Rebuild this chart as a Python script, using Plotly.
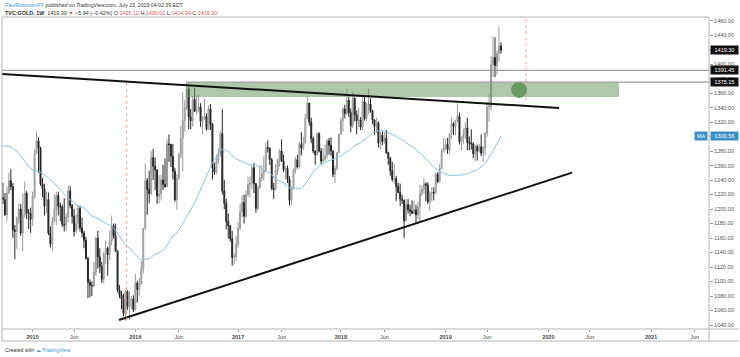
import pandas as pd
import plotly.graph_objects as go

# ---------------- data (weekly bars, Monday dated) ----------------
first_week = "2014-09-08"
warmup_closes = [1230, 1235, 1197, 1213, 1237, 1247, 1254, 1264, 1240, 1262,
                 1318, 1323, 1326, 1339, 1379, 1335, 1294, 1303, 1318, 1293,
                 1300, 1302, 1290, 1293, 1292, 1246, 1252, 1274, 1316, 1316,
                 1320, 1337, 1310, 1303, 1294, 1309, 1305, 1280, 1287, 1268]

opens = [
    # 2014
    1268, 1231, 1216, 1213, 1192, 1222, 1239, 1231, 1171, 1169, 1187, 1200, 1167, 1192, 1222, 1195, 1194,
    # 2015
    1186, 1217, 1277, 1294, 1284, 1235, 1228, 1204, 1213, 1167, 1152, 1184, 1199, 1219, 1204, 1203, 1179,
    1178, 1189, 1225, 1205, 1190, 1169, 1180, 1201, 1174, 1167, 1157, 1132, 1099, 1095, 1094, 1113, 1160,
    1134, 1121, 1103, 1138, 1146, 1137, 1156, 1177, 1163, 1142, 1088, 1081, 1076, 1056, 1086, 1065, 1066, 1076,
    # 2016
    1061, 1098, 1089, 1097, 1118, 1173, 1239, 1227, 1221, 1271, 1259, 1254, 1218, 1221, 1240, 1234, 1231,
    1290, 1289, 1273, 1252, 1213, 1242, 1275, 1298, 1322, 1340, 1366, 1327, 1322, 1351, 1335, 1336, 1341,
    1321, 1326, 1328, 1310, 1338, 1317, 1257, 1251, 1266, 1276, 1304, 1225, 1208, 1183, 1177, 1159, 1133, 1134,
    # 2017
    1151, 1173, 1196, 1209, 1190, 1220, 1234, 1236, 1257, 1235, 1201, 1229, 1243, 1249, 1254, 1285, 1284,
    1268, 1228, 1227, 1253, 1267, 1280, 1266, 1254, 1256, 1241, 1212, 1228, 1254, 1268, 1258, 1289, 1284,
    1291, 1325, 1346, 1320, 1297, 1280, 1275, 1304, 1280, 1266, 1269, 1274, 1294, 1288, 1280, 1248, 1256, 1278,
    # 2018
    1303, 1322, 1338, 1332, 1350, 1333, 1315, 1353, 1330, 1322, 1323, 1313, 1348, 1325, 1332, 1345, 1336,
    1323, 1314, 1319, 1291, 1302, 1293, 1298, 1278, 1270, 1253, 1241, 1242, 1231, 1223, 1214, 1212, 1184,
    1206, 1199, 1197, 1194, 1199, 1192, 1203, 1222, 1227, 1235, 1233, 1210, 1222, 1223, 1222, 1248, 1238, 1256, 1280,
    # 2019
    1285, 1289, 1282, 1304, 1318, 1314, 1322, 1328, 1293, 1298, 1302, 1312, 1292, 1291, 1290, 1276, 1286,
    1280, 1286, 1277, 1284, 1305, 1341, 1342, 1399, 1409, 1398, 1415, 1425.12,
]
highs = [
    1270, 1237, 1236, 1222, 1231, 1250, 1255, 1236, 1178, 1190, 1208, 1207, 1221, 1238, 1225, 1200, 1202,
    1224, 1282, 1307, 1299, 1286, 1243, 1235, 1224, 1223, 1176, 1189, 1220, 1224, 1224, 1209, 1206, 1215,
    1194, 1232, 1232, 1207, 1200, 1193, 1205, 1205, 1188, 1170, 1162, 1134, 1103, 1100, 1127, 1162, 1170,
    1146, 1127, 1141, 1156, 1148, 1170, 1191, 1180, 1180, 1143, 1095, 1087, 1083, 1088, 1088, 1087, 1080, 1081,
    1111, 1101, 1105, 1128, 1174, 1263, 1243, 1253, 1280, 1283, 1271, 1255, 1247, 1247, 1261, 1270, 1296,
    1303, 1290, 1290, 1257, 1248, 1278, 1315, 1362, 1350, 1375, 1368, 1338, 1356, 1367, 1357, 1358, 1346,
    1328, 1352, 1332, 1343, 1345, 1319, 1264, 1275, 1284, 1308, 1338, 1240, 1214, 1194, 1178, 1170, 1139, 1163,
    1182, 1207, 1219, 1220, 1226, 1245, 1245, 1260, 1264, 1236, 1233, 1260, 1260, 1273, 1292, 1295, 1285,
    1270, 1236, 1262, 1270, 1283, 1296, 1275, 1259, 1260, 1245, 1231, 1256, 1272, 1275, 1293, 1306, 1300,
    1331, 1357, 1347, 1326, 1300, 1281, 1306, 1306, 1284, 1284, 1289, 1297, 1298, 1299, 1281, 1260, 1279, 1304,
    1326, 1340, 1344, 1366, 1355, 1339, 1362, 1354, 1336, 1340, 1327, 1356, 1356, 1347, 1366, 1353, 1337,
    1324, 1326, 1321, 1306, 1307, 1306, 1309, 1279, 1272, 1265, 1263, 1246, 1236, 1235, 1220, 1213, 1214,
    1214, 1206, 1212, 1211, 1206, 1210, 1233, 1233, 1243, 1237, 1237, 1225, 1230, 1230, 1250, 1251, 1262, 1283, 1298,
    1297, 1298, 1305, 1326, 1320, 1323, 1346, 1333, 1300, 1311, 1320, 1326, 1300, 1310, 1292, 1289, 1289,
    1290, 1303, 1287, 1306, 1348, 1358, 1411, 1439, 1437, 1419, 1452, 1430.02,
]
lows = [
    1228, 1216, 1207, 1191, 1183, 1221, 1226, 1160, 1131, 1145, 1180, 1163, 1142, 1188, 1186, 1172, 1167,
    1177, 1214, 1276, 1250, 1232, 1216, 1191, 1194, 1164, 1147, 1142, 1181, 1178, 1191, 1183, 1175, 1169,
    1170, 1182, 1201, 1180, 1162, 1167, 1172, 1169, 1161, 1146, 1130, 1077, 1078, 1080, 1092, 1108, 1118,
    1112, 1098, 1098, 1124, 1108, 1129, 1150, 1159, 1141, 1085, 1077, 1062, 1052, 1046, 1061, 1047, 1062, 1058,
    1060, 1071, 1080, 1096, 1111, 1172, 1192, 1208, 1220, 1240, 1226, 1207, 1208, 1212, 1226, 1229, 1230,
    1265, 1258, 1241, 1210, 1199, 1241, 1269, 1252, 1307, 1337, 1310, 1310, 1314, 1334, 1330, 1333, 1313,
    1303, 1323, 1308, 1309, 1309, 1241, 1247, 1248, 1262, 1272, 1220, 1200, 1172, 1159, 1155, 1122, 1123, 1128,
    1146, 1172, 1189, 1180, 1188, 1217, 1216, 1228, 1222, 1195, 1198, 1228, 1238, 1240, 1251, 1278, 1261,
    1226, 1214, 1226, 1247, 1258, 1265, 1251, 1241, 1236, 1205, 1204, 1227, 1249, 1256, 1256, 1274, 1281,
    1290, 1324, 1315, 1291, 1277, 1261, 1274, 1278, 1262, 1264, 1266, 1270, 1275, 1273, 1244, 1236, 1253, 1277,
    1302, 1307, 1325, 1330, 1327, 1306, 1312, 1321, 1303, 1313, 1309, 1309, 1322, 1321, 1331, 1333, 1317,
    1302, 1305, 1285, 1282, 1288, 1290, 1276, 1261, 1246, 1238, 1235, 1211, 1222, 1204, 1207, 1160, 1183,
    1194, 1190, 1193, 1193, 1181, 1186, 1183, 1218, 1221, 1211, 1207, 1197, 1211, 1212, 1221, 1236, 1237, 1255, 1278,
    1281, 1276, 1276, 1297, 1302, 1302, 1320, 1289, 1281, 1290, 1297, 1281, 1281, 1282, 1270, 1266, 1267,
    1278, 1273, 1265, 1274, 1300, 1321, 1336, 1382, 1382, 1385, 1403, 1414.34,
]
closes = [
    1231, 1216, 1213, 1192, 1222, 1239, 1231, 1171, 1169, 1187, 1200, 1167, 1192, 1222, 1195, 1194, 1186,
    1217, 1277, 1294, 1284, 1235, 1228, 1204, 1213, 1167, 1152, 1184, 1199, 1219, 1204, 1203, 1179, 1178,
    1189, 1225, 1205, 1190, 1169, 1180, 1201, 1174, 1167, 1157, 1132, 1099, 1095, 1094, 1113, 1160, 1134,
    1121, 1103, 1138, 1146, 1137, 1156, 1177, 1163, 1142, 1088, 1081, 1076, 1056, 1086, 1065, 1066, 1076, 1061,
    1098, 1089, 1097, 1118, 1173, 1239, 1227, 1221, 1271, 1259, 1254, 1218, 1221, 1240, 1234, 1231, 1290,
    1289, 1273, 1252, 1213, 1242, 1275, 1298, 1322, 1340, 1366, 1327, 1322, 1351, 1335, 1336, 1341, 1321,
    1326, 1328, 1310, 1338, 1317, 1257, 1251, 1266, 1276, 1304, 1225, 1208, 1183, 1177, 1159, 1133, 1134, 1151,
    1173, 1196, 1209, 1190, 1220, 1234, 1236, 1257, 1235, 1201, 1229, 1243, 1249, 1254, 1285, 1284, 1268,
    1228, 1227, 1253, 1267, 1280, 1266, 1254, 1256, 1241, 1212, 1228, 1254, 1268, 1258, 1289, 1284, 1291,
    1325, 1346, 1320, 1297, 1280, 1275, 1304, 1280, 1266, 1269, 1274, 1294, 1288, 1280, 1248, 1256, 1278, 1303,
    1322, 1338, 1332, 1350, 1333, 1315, 1353, 1330, 1322, 1323, 1313, 1348, 1325, 1332, 1345, 1336, 1323,
    1314, 1319, 1291, 1302, 1293, 1298, 1278, 1270, 1253, 1241, 1242, 1231, 1223, 1214, 1212, 1184, 1206,
    1199, 1197, 1194, 1199, 1192, 1203, 1222, 1227, 1235, 1233, 1210, 1222, 1223, 1222, 1248, 1238, 1256, 1280, 1285,
    1289, 1282, 1304, 1318, 1314, 1322, 1328, 1293, 1298, 1302, 1312, 1292, 1291, 1290, 1276, 1286, 1280,
    1286, 1277, 1284, 1305, 1341, 1342, 1399, 1409, 1398, 1415, 1425, 1419.30,
]
ma_period = 40

# time-axis labels
tick_dates = ["2015-01-05", "2015-06-01", "2016-01-04", "2016-06-06", "2017-01-02", "2017-06-05",
              "2018-01-01", "2018-06-04", "2019-01-07", "2019-06-03", "2020-01-06", "2020-06-01",
              "2021-01-04", "2021-06-07"]
tick_text = ["2015", "Jun", "2016", "Jun", "2017", "Jun", "2018", "Jun", "2019", "Jun",
             "2020", "Jun", "2021", "Jun"]
price_ticks = list(range(1040, 1461, 20))

# drawings (date, price)
upper_trend = [("2014-09-18", 1386.4), ("2020-02-13", 1339.5)]
lower_trend = [("2015-11-07", 1046.9), ("2020-03-30", 1250.3)]
zone = [("2016-07-01", 1354.7), ("2020-09-12", 1374.5)]
circle = [("2019-08-27", 1353.4), ("2019-10-22", 1375.4)]
red_vlines = [("2015-12-04", 1047, 1374), ("2019-10-19", 1350, 1466)]
hlines = [("1391.45", 1391.45, None), ("1375.15", 1375.15, "2016-07-01")]
last_price = 1419.30
ma_last = "1300.56"

# ---------------- layout constants ----------------
W, H = 740, 357
PL, PR, PT, PB = 2, 709, 17, 329
X_RANGE = ["2014-09-18 14:00", "2021-07-28"]
Y_RANGE = [1034.5, 1465.0]
FONT = "Liberation Sans, Arial, sans-serif"


def pxx(x):
    return (x - PL) / (PR - PL)


def pyy(y):
    return (PB - y) / (PB - PT)


dates = pd.date_range(first_week, periods=len(closes), freq="7D")
all_closes = pd.Series(warmup_closes + closes, dtype=float)
ma = all_closes.rolling(ma_period).mean().iloc[len(warmup_closes):].values

fig = go.Figure()
fig.add_trace(go.Candlestick(
    x=dates, open=opens, high=highs, low=lows, close=closes,
    increasing=dict(line=dict(color="#9a9a9a", width=1), fillcolor="#d2d2d2"),
    decreasing=dict(line=dict(color="#262626", width=1), fillcolor="#262626"),
    whiskerwidth=0, hoverinfo="skip", showlegend=False,
))
fig.add_trace(go.Scatter(x=dates, y=ma, mode="lines",
                         line=dict(color="#8ec2df", width=1),
                         hoverinfo="skip", showlegend=False))

shapes = []
shapes.append(dict(type="rect", xref="x", yref="y", x0=zone[0][0], x1=zone[1][0],
                   y0=zone[0][1], y1=zone[1][1], fillcolor="rgba(110,155,100,0.55)",
                   line=dict(width=0), layer="above"))
shapes.append(dict(type="circle", xref="x", yref="y", x0=circle[0][0], x1=circle[1][0],
                   y0=circle[0][1], y1=circle[1][1], fillcolor="rgba(95,145,88,0.85)",
                   line=dict(width=0), layer="above"))
for lbl, p, start in hlines:
    shapes.append(dict(type="line", xref="x", yref="y",
                       x0=start if start else X_RANGE[0], x1=X_RANGE[1], y0=p, y1=p,
                       line=dict(color="#8a8a8a", width=1), layer="above"))
for tl in (upper_trend, lower_trend):
    shapes.append(dict(type="line", xref="x", yref="y", x0=tl[0][0], y0=tl[0][1],
                       x1=tl[1][0], y1=tl[1][1], line=dict(color="#111111", width=2),
                       layer="above"))
for d, p0, p1 in red_vlines:
    shapes.append(dict(type="line", xref="x", yref="y", x0=d, x1=d, y0=p0, y1=p1,
                       line=dict(color="rgba(240,120,120,0.7)", width=1, dash="dot"),
                       layer="above"))
fc = "#b4b4b4"


def pline(x0, y0, x1, y1):
    shapes.append(dict(type="line", xref="paper", yref="paper", x0=pxx(x0), y0=pyy(y0),
                       x1=pxx(x1), y1=pyy(y1), line=dict(color=fc, width=1), layer="above"))


pline(2, 17, 709, 17)
pline(2, 17, 2, 341)
pline(709, 17, 709, 341)
pline(2, 329, 739, 329)
pline(2, 341, 739, 341)

ann = []
ann.append(dict(xref="paper", yref="paper", x=pxx(3), y=pyy(5), xanchor="left", yanchor="middle",
                showarrow=False, font=dict(family=FONT, size=5.2, color="#333333"),
                text="<span style='color:#3a9ad9'>PaulRobinsonFX</span> published on TradingView.com, July 23, 2019 04:02:39 EDT"))
red = "#d9534f"
ann.append(dict(xref="paper", yref="paper", x=pxx(3), y=pyy(12.5), xanchor="left", yanchor="middle",
                showarrow=False, font=dict(family=FONT, size=5.4, color="#333333"),
                text=("<b>TVC:GOLD, 1W</b>  1419.30 <span style='color:%s'>▼</span> −5.94 (−0.42%%) "
                      "O:<span style='color:%s'>1425.12</span> H:<span style='color:%s'>1430.02</span> "
                      "L:<span style='color:%s'>1414.34</span> C:<span style='color:%s'>1419.30</span>")
                % (red, red, red, red, red)))
ann.append(dict(xref="paper", yref="paper", x=pxx(3), y=pyy(350), xanchor="left", yanchor="middle",
                showarrow=False, font=dict(family=FONT, size=5.2, color="#333333"),
                text="Created with <span style='color:#3a9ad9'>☁ TradingView</span>"))
for txt, p, bg in [("1419.30", last_price, "#111111"), (hlines[0][0], hlines[0][1], "#111111"),
                   (hlines[1][0], hlines[1][1], "#111111"), (ma_last, float(ma_last), "#3f8fc5")]:
    ann.append(dict(xref="paper", yref="y", x=pxx(710.5), y=p, xanchor="left", yanchor="middle",
                    showarrow=False, text=txt, bgcolor=bg, width=27, height=8, borderpad=0,
                    font=dict(family=FONT, size=5.5, color="#ffffff")))
ann.append(dict(xref="paper", yref="y", x=pxx(707.5), y=float(ma_last), xanchor="right", yanchor="middle",
                showarrow=False, text="MA", bgcolor="#3f8fc5", width=12, height=8, borderpad=0,
                font=dict(family=FONT, size=5.5, color="#ffffff")))

fig.update_layout(
    width=W, height=H, autosize=False,
    margin=dict(l=PL, r=W - PR, t=PT, b=H - PB, pad=0),
    paper_bgcolor="#ffffff", plot_bgcolor="#ffffff",
    font=dict(family=FONT, size=5.5, color="#4a4a4a"),
    shapes=shapes, annotations=ann, showlegend=False,
    xaxis=dict(type="date", range=X_RANGE, rangeslider=dict(visible=False),
               tickvals=tick_dates,
               ticktext=[("<b>%s</b>" % t) if t != "Jun" else t for t in tick_text],
               ticks="outside", ticklen=2, tickcolor="#999999", showgrid=False,
               zeroline=False, showline=False, tickfont=dict(size=5.5, color="#4a4a4a"),
               fixedrange=True),
    yaxis=dict(range=Y_RANGE, side="right", tickvals=price_ticks, tickformat=".2f",
               ticks="outside", ticklen=3, tickcolor="#999999", showgrid=False,
               zeroline=False, showline=False, tickfont=dict(size=5.5, color="#555555"),
               fixedrange=True),
)

fig.write_html("out.html", config={"displayModeBar": False},
               post_script="document.body.style.margin='0';document.body.style.overflow='hidden';")
